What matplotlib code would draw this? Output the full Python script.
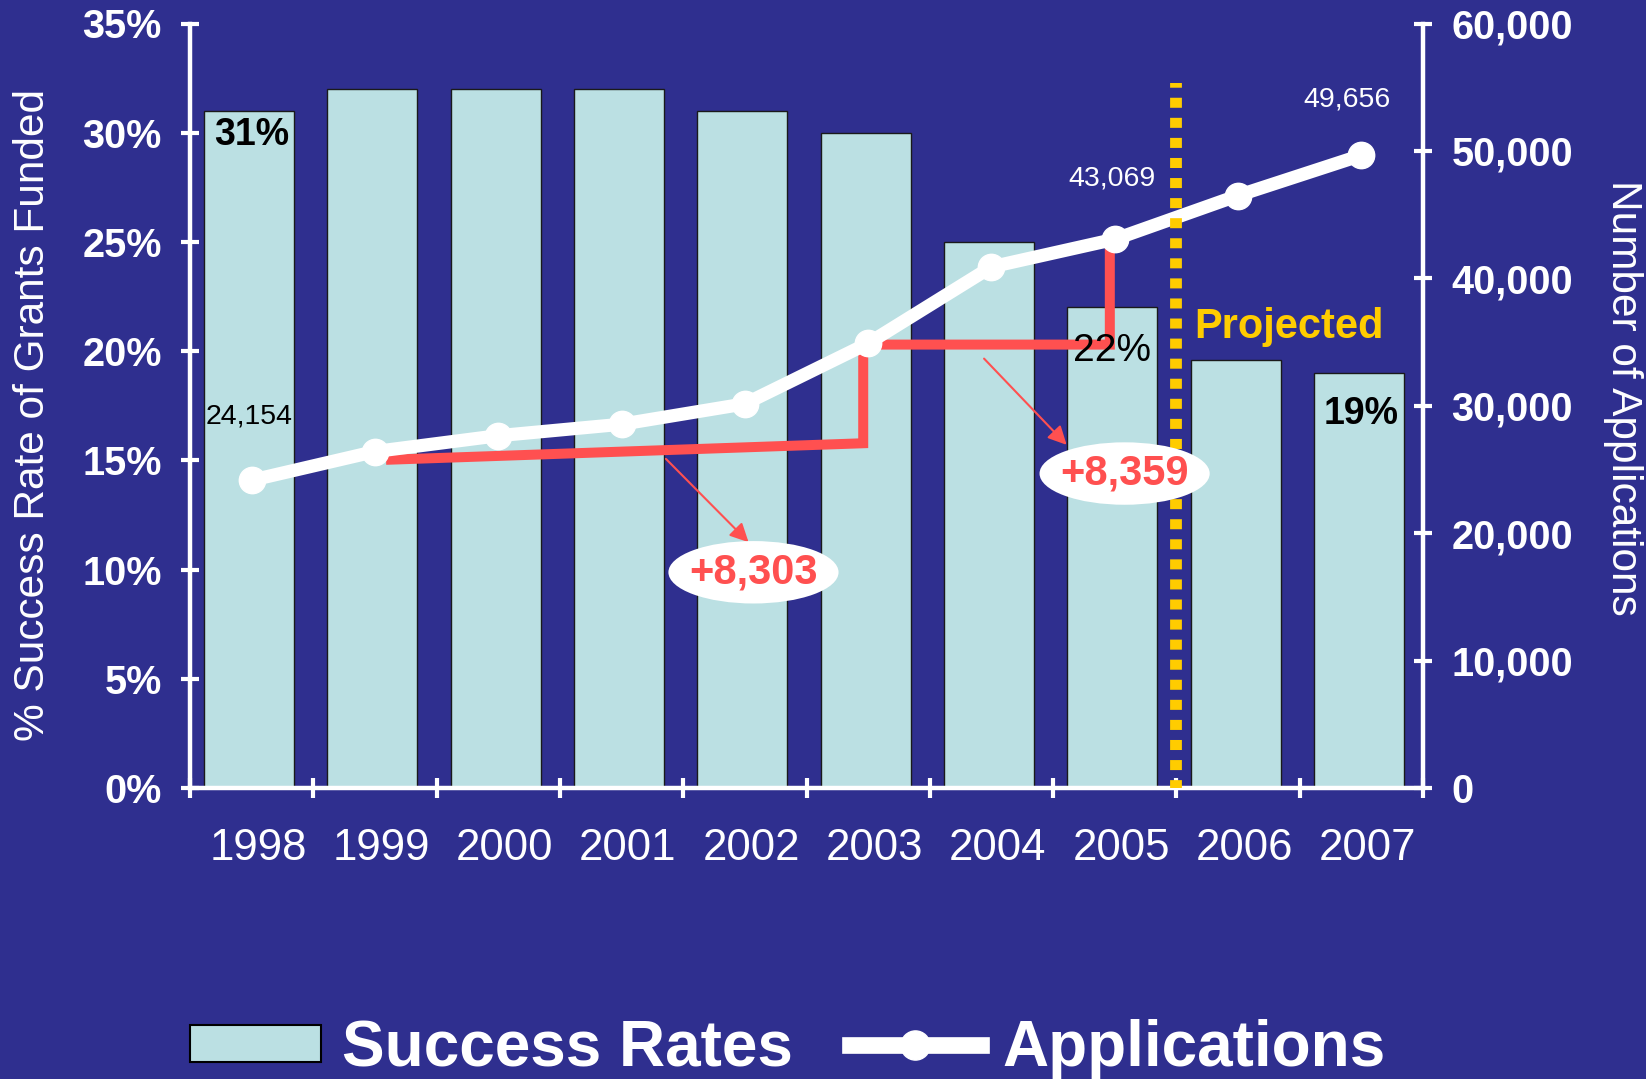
import matplotlib
matplotlib.use('Agg')
import matplotlib.pyplot as plt
from matplotlib.patches import Ellipse, Patch
from matplotlib.lines import Line2D
from matplotlib.transforms import ScaledTranslation
import numpy as np

plt.rcParams['font.family'] = ['Liberation Sans', 'DejaVu Sans']

# ---------------- data ----------------
years = ['1998', '1999', '2000', '2001', '2002', '2003', '2004', '2005', '2006', '2007']
success_rates = [31, 32, 32, 32, 31, 30, 25, 22, 19.6, 19]
applications = [24154, 26407, 27650, 28550, 30150, 34900, 40900, 43069, 46500, 49656]
pct_ticks = [0, 5, 10, 15, 20, 25, 30, 35]
app_ticks = [0, 10000, 20000, 30000, 40000, 50000, 60000]
increase_labels = ['+8,303', '+8,359']
projection_boundary = 7.5   # between 2005 and 2006

BG = '#2F2F8F'
BAR = '#BBE0E3'
RED = '#FF5050'
GOLD = '#FFCC00'

fig = plt.figure(figsize=(16.46, 10.79), dpi=100, facecolor=BG)
W, H = 1646, 1079
ax = fig.add_axes([190 / W, 1 - 788 / H, (1423 - 190) / W, (788 - 23.5) / H])
ax.set_facecolor(BG)

x = np.arange(len(years))
ax.bar(x - 0.02, success_rates, width=0.73, color=BAR, edgecolor='#1a1a1a', linewidth=1, zorder=2)
ax.set_xlim(-0.5, 9.5)
ax.set_ylim(0, 35)

ax2 = ax.twinx()
ax2.set_ylim(0, 60000)
ax2.set_xlim(-0.5, 9.5)

# spines
for s in ['top', 'right']:
    ax.spines[s].set_visible(False)
for s in ['top', 'left', 'bottom']:
    ax2.spines[s].set_visible(False)
for a, s in [(ax, 'left'), (ax, 'bottom'), (ax2, 'right')]:
    a.spines[s].set_color('white')
    a.spines[s].set_linewidth(3.2)

# left ticks
ax.set_yticks(pct_ticks)
ax.set_yticklabels([f'{v}%' for v in pct_ticks], fontweight='bold')
ax.tick_params(axis='y', direction='inout', length=13, width=3, colors='white',
               labelsize=28.5, pad=14)
# x ticks: boundaries (major) and labels (minor)
ax.set_xticks(np.arange(-0.5, len(years), 1))
ax.set_xticklabels([])
ax.tick_params(axis='x', which='major', direction='inout', length=14, width=3, color='white')
ax.set_xticks(x, minor=True)
ax.set_xticklabels(years, minor=True)
ax.tick_params(axis='x', which='minor', length=0, pad=28.5, labelsize=31.5, labelcolor='white')
shift = ScaledTranslation(0.063, 0, fig.dpi_scale_trans)
for lab in ax.get_xticklabels(minor=True):
    lab.set_transform(lab.get_transform() + shift)

# right ticks
ax2.set_yticks(app_ticks)
ax2.set_yticklabels([f'{v:,}' for v in app_ticks], fontweight='bold')
ax2.tick_params(axis='y', direction='inout', length=13, width=3, colors='white',
                labelsize=28.5, pad=14)

# applications line
ax2.plot(x, applications, color='white', lw=9.5, marker='o', ms=19, zorder=4,
         solid_capstyle='round')

# red bracket showing increases 1999->2003 and 2003->2005
bx = [x[1] + 0.09, x[5] - 0.04, x[5] - 0.04, x[7] - 0.04, x[7] - 0.04]
by = [applications[1] - 650, applications[1] + 650, applications[5] - 100,
      applications[5] - 100, applications[7] - 350]
ax2.plot(bx, by, color=RED, lw=7.2, zorder=3, solid_joinstyle='miter', solid_capstyle='butt')

# projection divider (drawn from the top down)
ax2.plot([projection_boundary, projection_boundary], [55300, 0], color=GOLD, lw=8.5,
         linestyle=(0.45, (0.85, 0.85)), zorder=5)

# percentage labels
ax2.text(x[0], success_rates[0] - 1.1, '31%', transform=ax.transData, ha='center', va='center',
         fontsize=27, fontweight='bold', color='black', zorder=7)
ax2.text(x[7] - 0.02, success_rates[7] - 2.0, '22%', transform=ax.transData, ha='center',
         va='center', fontsize=28, color='black', zorder=7)
ax2.text(x[9], success_rates[9] - 1.88, '19%', transform=ax.transData, ha='center', va='center',
         fontsize=27, fontweight='bold', color='black', zorder=7)
ax2.text(8.41, 21.1, 'Projected', transform=ax.transData, ha='center', va='center',
         fontsize=30, fontweight='bold', color=GOLD, zorder=7)

# application value labels
ax2.text(x[0] - 0.02, applications[0] + 5000, f'{applications[0]:,}', ha='center', va='center',
         fontsize=20.5, color='black', zorder=7)
ax2.text(x[7] - 0.02, applications[7] + 4730, f'{applications[7]:,}', ha='center', va='center',
         fontsize=20.5, color='white', zorder=7)
ax2.text(x[9] - 0.12, applications[9] + 4400, f'{applications[9]:,}', ha='center', va='center',
         fontsize=20.5, color='white', zorder=7)

# increase callouts
callouts = [((4.07, 16930), (3.36, 25830), (4.03, 19290)),
            ((7.08, 24680), (5.94, 33700), (6.61, 26930))]
for (c, a0, a1), lab in zip(callouts, increase_labels):
    ax2.annotate('', xy=a1, xytext=a0,
                 arrowprops=dict(arrowstyle='-|>', color=RED, lw=1.5, mutation_scale=28,
                                 shrinkA=0, shrinkB=0), zorder=6)
    ax2.add_patch(Ellipse(c, 1.38, 4900, facecolor='white', edgecolor='none', zorder=6))
    ax2.text(c[0], c[1], lab, ha='center', va='center', fontsize=30, fontweight='bold',
             color=RED, zorder=7)

# axis titles
fig.text(33 / W, 1 - 414.5 / H, '% Success Rate of Grants Funded', rotation=90,
         ha='center', va='center', fontsize=30.5, color='white')
fig.text(1623 / W, 1 - 398 / H, 'Number of Applications', rotation=270,
         ha='center', va='center', fontsize=30.5, color='white')

# legend
handles = [Patch(facecolor=BAR, edgecolor='black', linewidth=1.5),
           Line2D([], [], color='white', lw=12, marker='o', ms=21)]
leg = fig.legend(handles, ['Success Rates', 'Applications'], loc='center',
                 bbox_to_anchor=(0.4784, 0.0278), ncol=2, frameon=False,
                 prop={'family': 'Liberation Sans', 'weight': 'bold', 'size': 46},
                 labelcolor='white', handlelength=2.05, handleheight=0.53,
                 handletextpad=0.33, columnspacing=0.9, borderpad=0, borderaxespad=0)

fig.savefig('out.png', dpi=100, facecolor=BG)
